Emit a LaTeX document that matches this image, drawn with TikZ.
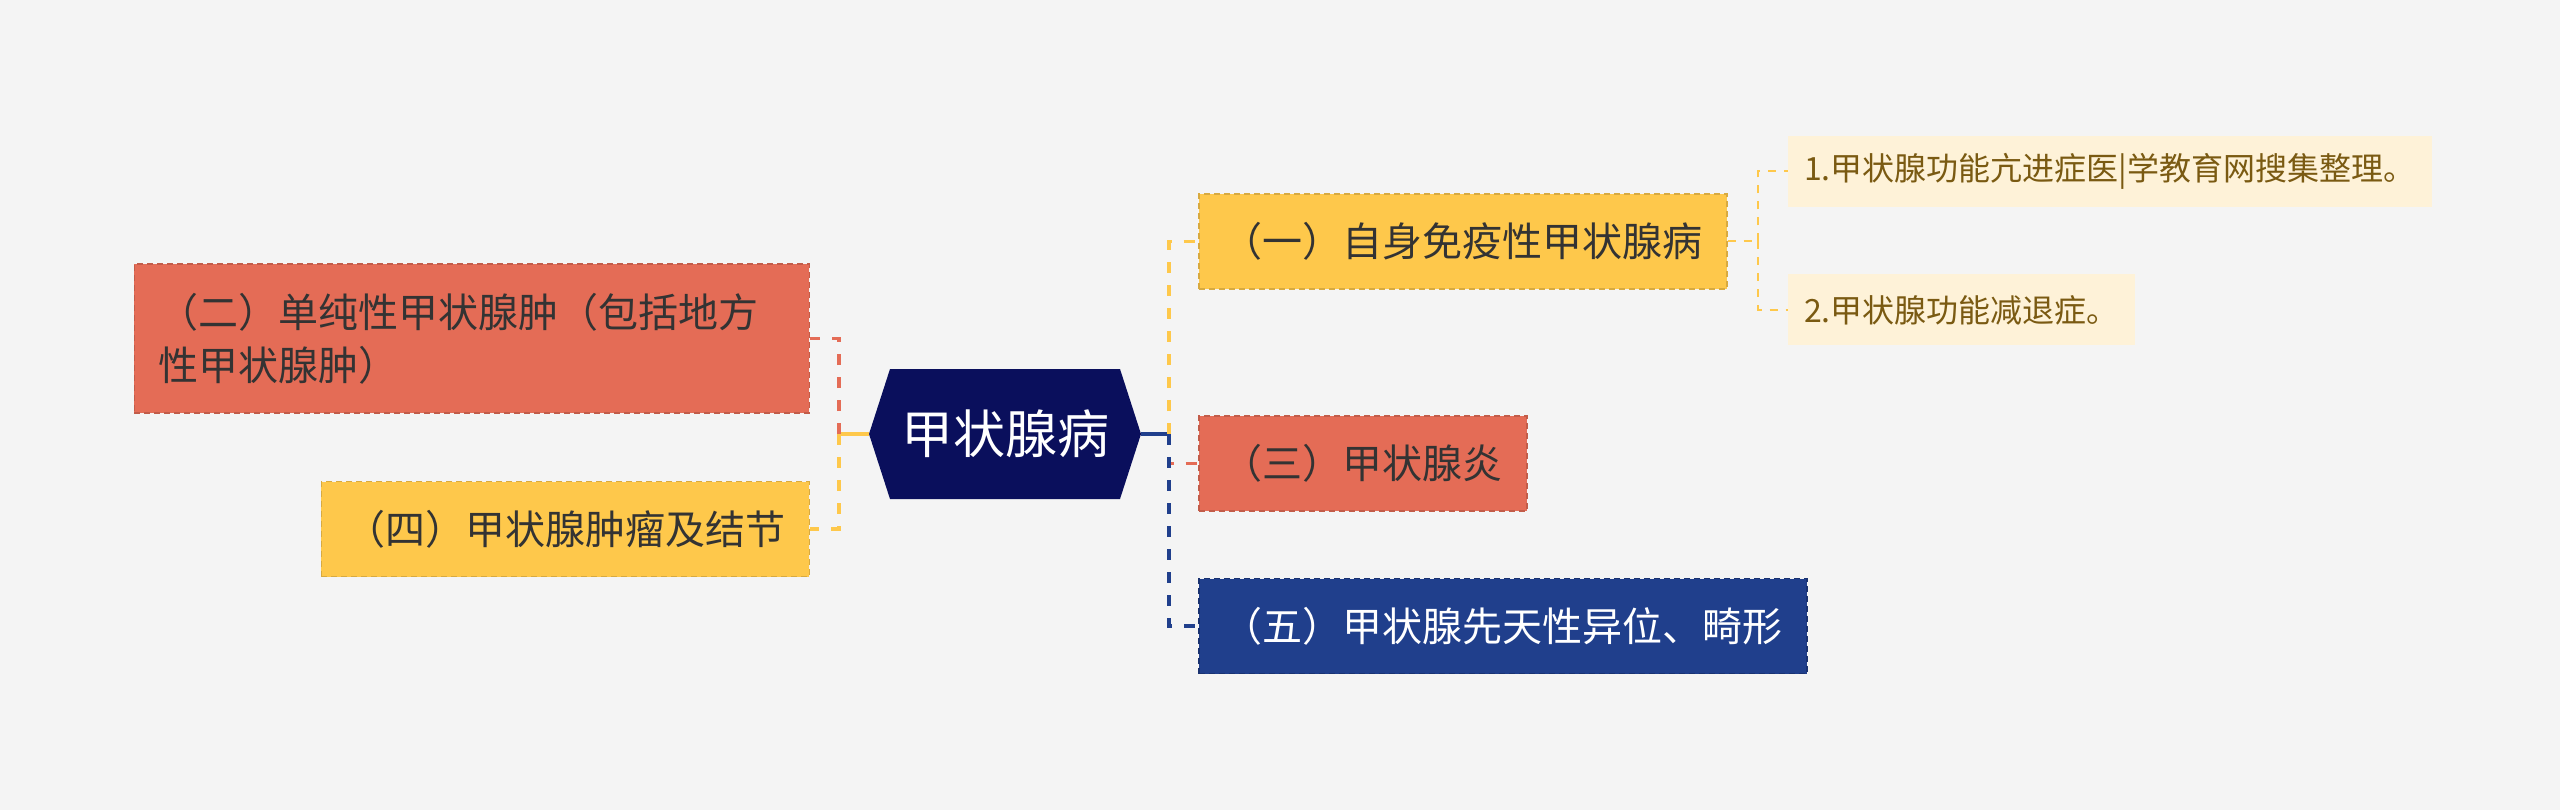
\documentclass[tikz,border=0pt]{standalone}
\usepackage{fontspec}
\newfontfamily\cjk{Noto Sans CJK SC}
\definecolor{bgc}{HTML}{F4F4F4}
\definecolor{hubc}{HTML}{0A0F5C}
\definecolor{redc}{HTML}{E46C56}
\definecolor{yelc}{HTML}{FEC84B}
\definecolor{bluc}{HTML}{203F8C}
\definecolor{subc}{HTML}{FEF2D8}
\definecolor{subt}{HTML}{7A5A12}
\definecolor{txtc}{HTML}{333333}

\begin{document}
\begin{tikzpicture}[x=1pt,y=-1pt,
  topic/.style={font=\cjk\fontsize{40}{53}\selectfont, text=txtc, inner xsep=24pt, inner ysep=0pt,
    minimum height=95pt, line width=1.5pt, dash pattern=on 6pt off 4pt},
  redbox/.style={topic, fill=redc, draw=redc!85!black},
  yelbox/.style={topic, fill=yelc, draw=yelc!85!black},
  blubox/.style={topic, fill=bluc, draw=bluc!80!black, text=white},
  subbox/.style={font=\cjk\fontsize{32}{40}\selectfont, text=subt, fill=subc, inner xsep=16pt,
    inner ysep=0pt, minimum height=71pt},
  link/.style={line width=3.5pt, dash pattern=on 11pt off 12pt},
  sublink/.style={yelc, line width=2pt, dash pattern=on 8pt off 8pt}]
  \fill[bgc] (0,0) rectangle (2560,810);
  \useasboundingbox (0,0) rectangle (2560,810);
  % central topic
  \coordinate (hubL) at (869,434);
  \coordinate (hubR) at (1141,434);
  \fill[hubc] (hubL) -- (890,369) -- (1120,369) -- (hubR) -- (1120,499) -- (890,499) -- cycle;
  \node[font=\cjk\fontsize{52}{60}\selectfont, text=white] (hub) at (1005,434) {甲状腺病};
  % left branches
  \node[redbox, anchor=east, text width=627pt, align=left, minimum height=149pt] (er) at (810,338.5)
    {（二）单纯性甲状腺肿（包括地方\\性甲状腺肿）};
  \node[yelbox, anchor=east] (si) at (810,529) {（四）甲状腺肿瘤及结节};
  % right branches
  \node[yelbox, anchor=west] (yi) at (1198,241.5) {（一）自身免疫性甲状腺病};
  \node[redbox, anchor=west] (san) at (1198,463.5) {（三）甲状腺炎};
  \node[blubox, anchor=west] (wu) at (1198,626) {（五）甲状腺先天性异位、畸形};
  % details
  \node[subbox, anchor=west] (s1) at (1788,171.5) {1.甲状腺功能亢进症医|学教育网搜集整理。};
  \node[subbox, anchor=west] (s2) at (1788,310) {2.甲状腺功能减退症。};
  % connectors
  \coordinate (jL) at (839,434);
  \coordinate (jR) at (1169,434);
  \coordinate (jS) at (1758,241.5);
  \draw[yelc, line width=3.5pt] (hubL) -- (jL);
  \draw[link, redc] (jL) |- (er.east);
  \draw[link, yelc] (jL) |- (si.east);
  \draw[bluc, line width=3.5pt] (hubR) -- (jR);
  \draw[link, yelc] (jR) |- (yi.west);
  \draw[link, redc] (jR) |- (san.west);
  \draw[link, bluc] (jR) |- (wu.west);
  \draw[sublink] (yi.east) -- (jS);
  \draw[sublink] (jS) |- (s1.west);
  \draw[sublink] (jS) |- (s2.west);
\end{tikzpicture}
\end{document}
